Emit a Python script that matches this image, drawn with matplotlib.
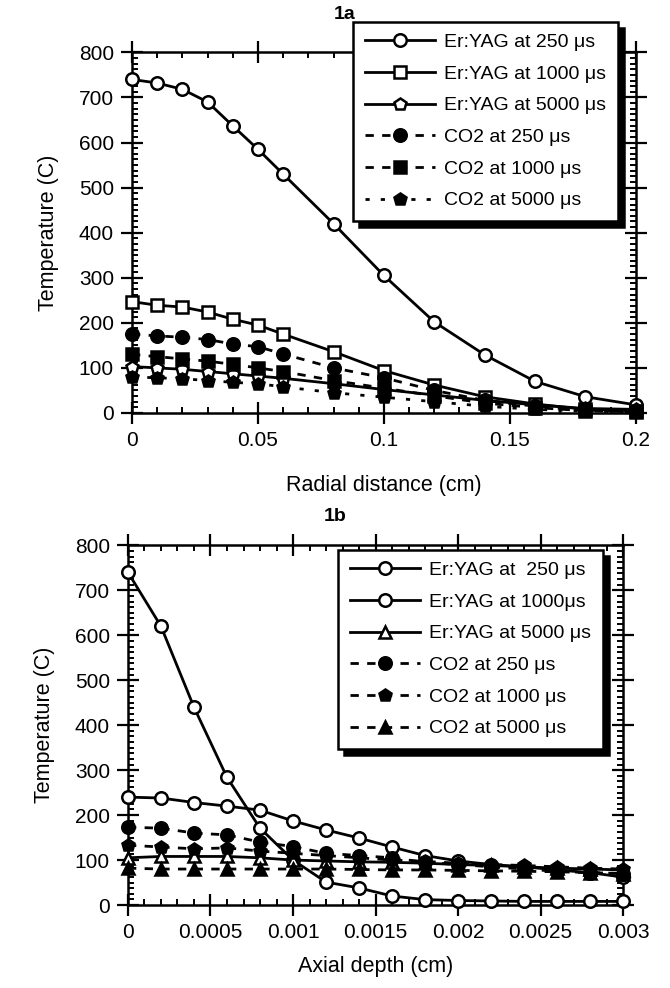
import matplotlib
matplotlib.use("Agg")
import matplotlib.pyplot as plt
from matplotlib.ticker import MultipleLocator, FuncFormatter

plt.rcParams['font.family'] = ['Liberation Sans', 'DejaVu Sans']

# panel 1a: radial distance (cm)
radial = [0, 0.01, 0.02, 0.03, 0.04, 0.05, 0.06, 0.08, 0.10, 0.12, 0.14, 0.16, 0.18, 0.20]
a_er250 = [740, 732, 718, 690, 637, 585, 530, 420, 305, 202, 129, 70, 36, 18]
a_er1000 = [247, 239, 235, 224, 208, 195, 175, 136, 94, 62, 36, 20, 8, 5]
a_er5000 = [103, 100, 97, 92, 87, 82, 77, 65, 52, 40, 28, 18, 10, 8]
a_co250 = [175, 171, 168, 163, 153, 147, 131, 100, 78, 50, 28, 15, 6, 4]
a_co1000 = [130, 125, 120, 115, 108, 100, 92, 72, 55, 38, 22, 12, 5, 3]
a_co5000 = [80, 78, 76, 72, 68, 65, 58, 45, 35, 25, 15, 8, 4, 2]
a_labels = ["Er:YAG at 250 μs", "Er:YAG at 1000 μs", "Er:YAG at 5000 μs",
            "CO2 at 250 μs", "CO2 at 1000 μs", "CO2 at 5000 μs"]

# panel 1b: axial depth (cm)
axial = [0, 0.0002, 0.0004, 0.0006, 0.0008, 0.0010, 0.0012, 0.0014,
         0.0016, 0.0018, 0.0020, 0.0022, 0.0024, 0.0026, 0.0028, 0.0030]
b_er250 = [740, 620, 440, 284, 171, 100, 51, 38, 20, 12, 10, 9, 8, 8, 8, 8]
b_er1000 = [240, 238, 228, 220, 211, 187, 167, 149, 129, 110, 98, 90, 85, 78, 72, 62]
b_er5000 = [105, 108, 108, 108, 105, 100, 98, 96, 95, 93, 90, 88, 85, 82, 80, 78]
b_co250 = [173, 171, 160, 156, 140, 130, 115, 110, 105, 95, 90, 85, 80, 75, 72, 70]
b_co1000 = [133, 129, 125, 127, 120, 115, 110, 105, 100, 97, 93, 90, 88, 85, 82, 80]
b_co5000 = [82, 80, 80, 80, 80, 80, 80, 79, 78, 78, 77, 76, 75, 74, 72, 70]
b_labels = ["Er:YAG at  250 μs", "Er:YAG at 1000μs", "Er:YAG at 5000 μs",
            "CO2 at 250 μs", "CO2 at 1000 μs", "CO2 at 5000 μs"]


def style_axes(ax, xmajor, xminor, xmax):
  ax.set_xlim(0, xmax)
  ax.set_ylim(0, 800)
  ax.xaxis.set_major_locator(MultipleLocator(xmajor))
  ax.xaxis.set_minor_locator(MultipleLocator(xminor))
  ax.yaxis.set_major_locator(MultipleLocator(100))
  ax.yaxis.set_minor_locator(MultipleLocator(12.5))
  ax.xaxis.set_major_formatter(FuncFormatter(lambda v, p: '%g' % round(v, 6)))
  ax.tick_params(which='major', direction='inout', length=16, width=1.6,
                 top=True, right=True, labelsize=15, pad=5)
  ax.tick_params(which='minor', direction='in', length=4, width=1.4,
                 top=True, right=True)
  for sp in ax.spines.values():
    sp.set_linewidth(1.8)
  ax.set_ylabel("Temperature (C)", fontsize=15.5, labelpad=14)


def plot_panel(ax, x, series, labels, markers, styles, faces):
  for y, lab, m, ls, fc in zip(series, labels, markers, styles, faces):
    ax.plot(x, y, color='black', linestyle=ls, linewidth=2, marker=m,
            markersize=9, markerfacecolor=fc, markeredgecolor='black',
            markeredgewidth=1.8, label=lab, clip_on=False, zorder=3)


def add_legend(ax, fig, left, top):
  leg = ax.legend(loc='upper left', bbox_to_anchor=(left / 670, 1 - top / 988),
                  bbox_transform=fig.transFigure, fontsize=14, borderaxespad=0,
                  handlelength=3.6, handletextpad=0.5, labelspacing=0.72,
                  borderpad=0.6, fancybox=False, edgecolor='black',
                  shadow={'color': 'black', 'alpha': 1, 'ox': 4, 'oy': -4})
  leg.get_frame().set_linewidth(1.8)
  leg.set_zorder(5)


def main():
  fig = plt.figure(figsize=(6.7, 9.88), dpi=100)

  ax1 = fig.add_axes([0.197, 0.582, 0.752, 0.365])
  plot_panel(ax1, radial,
             [a_er250, a_er1000, a_er5000, a_co250, a_co1000, a_co5000],
             a_labels,
             ['o', 's', 'p', 'o', 's', 'p'],
             ['-', '-', '-', (0, (3, 3)), (0, (3, 3)), (0, (1.5, 4))],
             ['white', 'white', 'white', 'black', 'black', 'black'])
  style_axes(ax1, 0.05, 0.01, 0.2)
  ax1.set_xlabel("Radial distance (cm)", fontsize=15.5, labelpad=18)
  add_legend(ax1, fig, 353, 22)

  ax2 = fig.add_axes([0.191, 0.084, 0.739, 0.364])
  plot_panel(ax2, axial,
             [b_er250, b_er1000, b_er5000, b_co250, b_co1000, b_co5000],
             b_labels,
             ['o', 'o', '^', 'o', 'p', '^'],
             ['-', '-', '-', (0, (3, 3)), (0, (3, 3)), (0, (3, 3))],
             ['white', 'white', 'white', 'black', 'black', 'black'])
  style_axes(ax2, 0.0005, 0.0001, 0.003)
  ax2.set_xlabel("Axial depth (cm)", fontsize=15.5, labelpad=10)
  add_legend(ax2, fig, 338, 550)

  fig.text(0.515, 0.985, "1a", fontsize=14, fontweight='bold', ha='center', va='center')
  fig.text(0.5, 0.477, "1b", fontsize=14, fontweight='bold', ha='center', va='center')

  fig.savefig("out.png", dpi=100)

main()
